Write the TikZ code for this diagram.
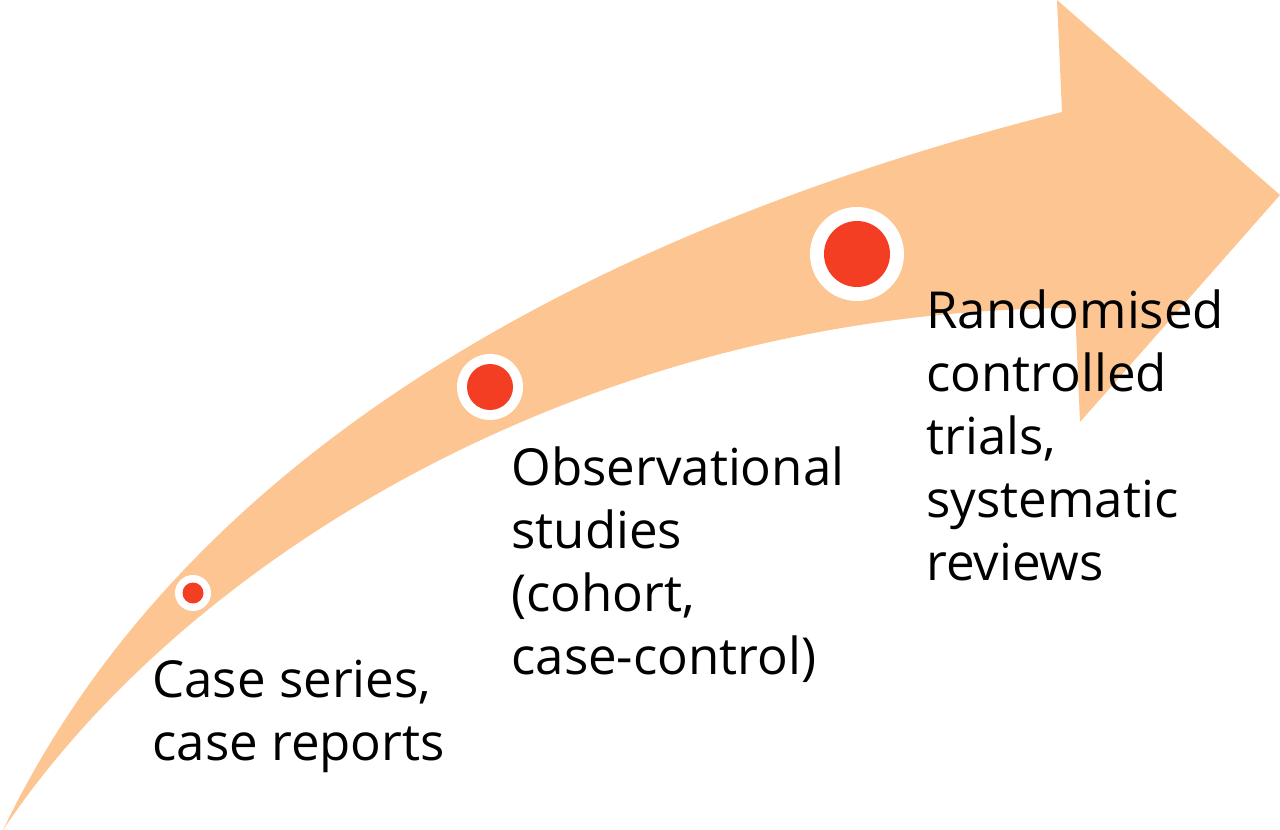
\documentclass[tikz,border=0pt]{standalone}
\usepackage{fontspec}
\setmainfont{Open Sans}
\definecolor{peach}{RGB}{252,197,145}
\definecolor{dotred}{RGB}{244,62,36}
\begin{document}
\begin{tikzpicture}[x=0.5pt,y=-0.5pt,
  lbl/.style={anchor=base west, align=left, inner sep=0pt, font=\fontsize{25.5}{31.5}\selectfont},
  ring/.style={circle, fill=white, inner sep=0pt},
  dot/.style={circle, fill=dotred, inner sep=0pt}]
\useasboundingbox (0,0) rectangle (1280,830);
\fill[peach] (3,830) .. controls (190,440) and (615,225) .. (1062,112)
  -- (1057,0) -- (1280,195) -- (1080,422) -- (1075,308)
  .. controls (580,310) and (180,565) .. (3,830) -- cycle;
\node[ring, minimum size=18pt] (r1) at (193,593) {};
\node[dot, minimum size=10.5pt] (d1) at (r1) {};
\node[ring, minimum size=33pt] (r2) at (490,387) {};
\node[dot, minimum size=23pt] (d2) at (r2) {};
\node[ring, minimum size=47pt] (r3) at (857,254) {};
\node[dot, minimum size=33pt] (d3) at (r3) {};
\node[lbl] (t1) at (152,760) {Case series,\\case reports};
\node[lbl] (t2) at (511,674) {Observational\\studies\\(cohort,\\case-control)};
\node[lbl] (t3) at (926,580) {Randomised\\controlled\\trials,\\systematic\\reviews};
\end{tikzpicture}
\end{document}
